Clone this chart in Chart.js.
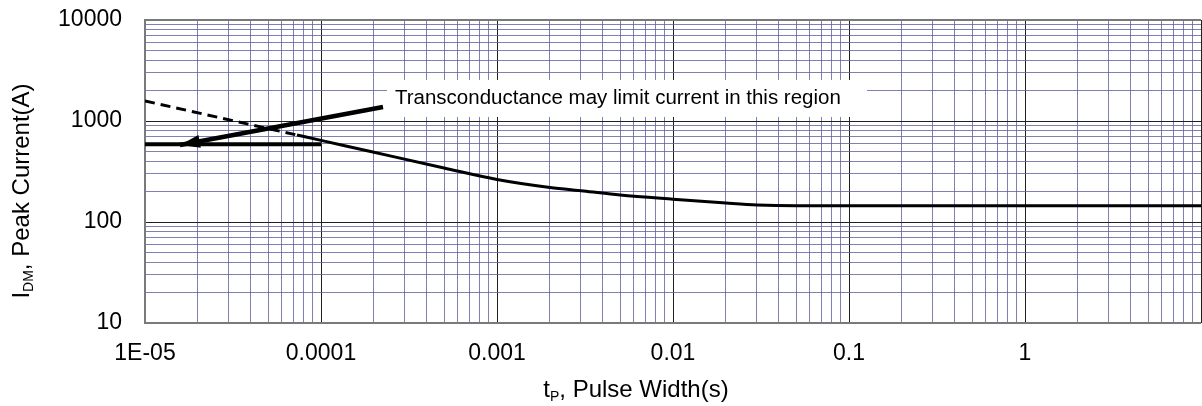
<!DOCTYPE html>
<html>
<head>
<meta charset="utf-8">
<script src="https://cdn.jsdelivr.net/npm/chart.js@4.4.1/dist/chart.umd.min.js"></script>
<style>
  html, body { margin: 0; padding: 0; background: #fff; }
  #wrap { width: 1202px; height: 406px; }
</style>
</head>
<body>
<div id="wrap"><canvas id="chart" width="1202" height="406"></canvas></div>
<script>
// values
const dashedT = [1e-5, 7.3e-5];
const dashedI = [1580, 727];

const curveT = [7.3e-5, 1e-4, 2e-4, 5e-4, 1e-3, 2e-3, 3.1e-3, 5e-3, 1e-2, 2e-2, 3e-2, 5e-2, 0.1, 1, 10];
const curveI = [727, 643, 490, 343, 264, 220, 203, 185, 168, 154, 147.5, 145, 145, 145, 145];

const limitT = [1e-5, 1e-4];
const limitI = [587, 587];

const arrowT = [2.25e-4, 1.58e-5];
const arrowI = [1377, 578];

const noteText = 'Transconductance may limit current in this region';

const xDecades = [1e-5, 1e-4, 1e-3, 1e-2, 0.1, 1];
const xTickLabels = ['1E-05', '0.0001', '0.001', '0.01', '0.1', '1'];
const yDecades = [10, 100, 1000];
const yTickLabels = ['10', '100', '1000', '10000'];

const xMin = 1e-5, xMax = 10;
const yMin = 10, yMax = 10000;

const FONT = "'Liberation Sans', Arial, sans-serif";

function toPoints(xs, ys) {
  return xs.map((x, i) => ({ x: x, y: ys[i] }));
}

function gridValues(decades, last) {
  let vals = [];
  decades.forEach(d => {
    for (let m = 1; m <= 9; m++) vals.push(d * m);
  });
  vals.push(last);
  return vals;
}

function isDecade(v) {
  const l = Math.log10(v);
  return Math.abs(l - Math.round(l)) < 1e-9;
}

function gridColor(ctx) {
  if (!ctx.tick) return '#6a6aa8';
  return isDecade(ctx.tick.value) ? '#202020' : 'rgba(96,96,160,0.8)';
}

const decorPlugin = {
  id: 'decor',
  beforeDatasetsDraw(chart) {
    const c = chart.ctx;
    const a = chart.chartArea;
    // plot frame
    c.save();
    c.strokeStyle = '#7a7a7a';
    c.lineWidth = 2;
    c.beginPath();
    c.moveTo(a.right, a.top);
    c.lineTo(a.left, a.top);
    c.lineTo(a.left, a.bottom);
    c.lineTo(a.right, a.bottom);
    c.stroke();
    // white box behind the note, anchored at the arrow tail
    const tail = chart.getDatasetMeta(3).data[0];
    c.fillStyle = '#fff';
    c.fillRect(tail.x + 4, tail.y - 27, 480, 37);
    c.restore();
  },
  afterDatasetsDraw(chart) {
    const c = chart.ctx;
    const pts = chart.getDatasetMeta(3).data;
    const tail = pts[0], tip = pts[1];
    // arrow head
    const ang = Math.atan2(tip.y - tail.y, tip.x - tail.x);
    const len = 20, half = 6.5;
    c.save();
    c.fillStyle = '#000';
    c.beginPath();
    c.moveTo(tip.x, tip.y);
    c.lineTo(tip.x - len * Math.cos(ang) + half * Math.sin(ang), tip.y - len * Math.sin(ang) - half * Math.cos(ang));
    c.lineTo(tip.x - len * Math.cos(ang) - half * Math.sin(ang), tip.y - len * Math.sin(ang) + half * Math.cos(ang));
    c.closePath();
    c.fill();
    // note text
    c.font = '20.5px ' + FONT;
    c.textBaseline = 'alphabetic';
    c.textAlign = 'left';
    c.fillText(noteText, tail.x + 12, tail.y - 3);
    c.restore();
  },
  afterDraw(chart) {
    const c = chart.ctx;
    c.save();
    c.fillStyle = '#000';
    c.textBaseline = 'alphabetic';
    // x axis title: t_P, Pulse Width(s)
    const mainFont = '24px ' + FONT;
    const subFont = '14px ' + FONT;
    let parts = [['t', mainFont, 0], ['P', subFont, 4], [', Pulse Width(s)', mainFont, 0]];
    let w = 0;
    parts.forEach(p => { c.font = p[1]; w += c.measureText(p[0]).width; });
    let x = 636 - w / 2;
    parts.forEach(p => {
      c.font = p[1];
      c.fillText(p[0], x, 397 + p[2]);
      x += c.measureText(p[0]).width;
    });
    // y axis title: I_DM, Peak Current(A)
    c.translate(29, 191);
    c.rotate(-Math.PI / 2);
    parts = [['I', mainFont, 0], ['DM', subFont, 4], [', Peak Current(A)', mainFont, 0]];
    w = 0;
    parts.forEach(p => { c.font = p[1]; w += c.measureText(p[0]).width; });
    x = -w / 2;
    parts.forEach(p => {
      c.font = p[1];
      c.fillText(p[0], x, p[2]);
      x += c.measureText(p[0]).width;
    });
    c.restore();
  }
};

const xGrid = gridValues(xDecades, xMax);
const yGrid = gridValues(yDecades, yMax);

new Chart(document.getElementById('chart'), {
  type: 'scatter',
  data: {
    datasets: [
      { data: toPoints(dashedT, dashedI), showLine: true, borderColor: '#000', borderWidth: 3, borderDash: [10, 6], pointRadius: 0 },
      { data: toPoints(curveT, curveI), showLine: true, borderColor: '#000', borderWidth: 3, cubicInterpolationMode: 'monotone', pointRadius: 0 },
      { data: toPoints(limitT, limitI), showLine: true, borderColor: '#000', borderWidth: 4, pointRadius: 0 },
      { data: toPoints(arrowT, arrowI), showLine: true, borderColor: '#000', borderWidth: 4.5, pointRadius: 0 }
    ]
  },
  options: {
    responsive: false,
    animation: false,
    devicePixelRatio: 1,
    layout: { padding: { top: 20, right: 1, left: 0, bottom: 0 } },
    plugins: { legend: { display: false }, tooltip: { enabled: false }, title: { display: false } },
    scales: {
      x: {
        type: 'logarithmic',
        min: xMin,
        max: xMax,
        afterBuildTicks: s => { s.ticks = xGrid.map(v => ({ value: v })); },
        afterFit: s => { s.height = 83; },
        grid: { color: gridColor, lineWidth: 1, drawTicks: true, tickLength: 17, tickColor: 'rgba(0,0,0,0)' },
        border: { display: false },
        ticks: {
          autoSkip: false,
          maxRotation: 0,
          padding: 0,
          color: '#000',
          font: { size: 23, family: FONT },
          callback: v => {
            const i = xDecades.findIndex(d => Math.abs(d - v) / d < 1e-9);
            return i >= 0 ? xTickLabels[i] : '';
          }
        }
      },
      y: {
        type: 'logarithmic',
        min: yMin,
        max: yMax,
        afterBuildTicks: s => { s.ticks = yGrid.map(v => ({ value: v })); },
        afterFit: s => { s.width = 145; },
        grid: { color: gridColor, lineWidth: 1, drawTicks: true, tickLength: 23, tickColor: 'rgba(0,0,0,0)' },
        border: { display: false },
        ticks: {
          autoSkip: false,
          padding: 0,
          color: '#000',
          font: { size: 23, family: FONT },
          callback: v => {
            if (!isDecade(v)) return '';
            const i = Math.round(Math.log10(v)) - 1;
            return yTickLabels[i];
          }
        }
      }
    }
  },
  plugins: [decorPlugin]
});
</script>
</body>
</html>
